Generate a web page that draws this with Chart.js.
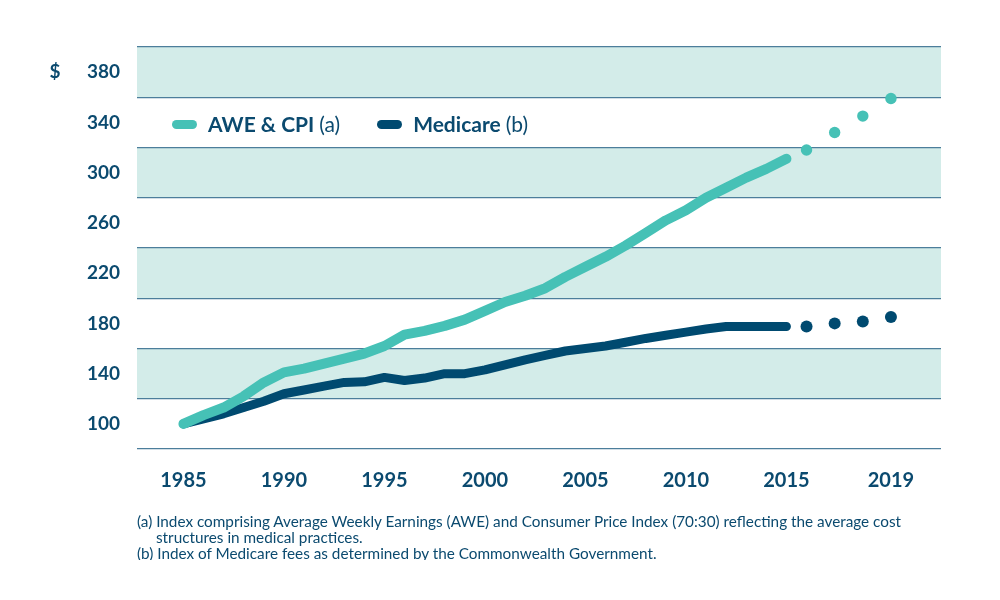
<!DOCTYPE html>
<html><head><meta charset="utf-8">
<script src="https://cdn.jsdelivr.net/npm/chart.js@4/dist/chart.umd.min.js"></script>
<style>
html,body{margin:0;padding:0;background:#fff;}
#wrap{position:relative;width:1000px;height:600px;overflow:hidden;font-family:Lato,"Open Sans",sans-serif;color:#0b4a6f;}
#c{position:absolute;left:0;top:0;}
#legend{position:absolute;left:172px;top:111px;display:flex;align-items:center;font-size:21px;line-height:26px;white-space:nowrap;}
.item{display:flex;align-items:center;}
.item + .item{margin-left:37px;}
.pill{width:25px;height:9px;border-radius:5px;margin-right:11px;}
.item b{font-weight:700;}
.item span.r{font-weight:400;margin-left:5px;}
#notes{position:absolute;left:137px;top:513px;width:800px;height:47px;overflow:hidden;font-size:15.3px;line-height:16.2px;font-weight:400;}
.note{padding-left:19px;text-indent:-19px;}
</style>
</head><body>
<div id="wrap">
<canvas id="c" width="1000" height="600"></canvas>
<div id="legend">
  <div class="item"><div class="pill" style="background:#46c1b6"></div><b>AWE &amp; CPI</b><span class="r">(a)</span></div>
  <div class="item"><div class="pill" style="background:#004a70"></div><b>Medicare</b><span class="r">(b)</span></div>
</div>
<div id="notes">
  <div class="note">(a) Index comprising Average Weekly Earnings (AWE) and Consumer Price Index (70:30) reflecting the average cost structures in medical practices.</div>
  <div class="note">(b) Index of Medicare fees as determined by the Commonwealth Government.</div>
</div>
</div>
<script>
const years = [1985,1986,1987,1988,1989,1990,1991,1992,1993,1994,1995,1996,1997,1998,1999,2000,2001,2002,2003,2004,2005,2006,2007,2008,2009,2010,2011,2012,2013,2014,2015];
const aweValues = [100,107,113,122,133,141,144,148,152,156,162,171,174,178,183,190,197,202,208,217,225,233,242,252,262,270,280,288,296,303,311];
const medicareValues = [100,104,108,113,118,124,127,130,133,133.5,137,134.5,136.5,140,140,143,147,151,154.5,158,160,162,165,168,170.5,173,175.5,177.5,177.5,177.5,177.5];
const projYears = ['2016','2017','2018','2019'];
const projPositions = [2016,2017.4,2018.8,2020.2];
const aweProjection = [318,332,345,359];
const medicareProjection = [177.5,180,181.5,185];
const xTickPositions = [1985,1990,1995,2000,2005,2010,2015,2020.2];
const xTickLabels = ['1985','1990','1995','2000','2005','2010','2015','2019'];
const yTickLabels = [100,140,180,220,260,300,340,380];
const bandRanges = [[120,160],[200,240],[280,320],[360,400]];

const TEAL = '#46c1b6', NAVY = '#004a70', TEXT = '#0b4a6f', BAND = '#d3ece9', GRID = '#4c7e9b';

const bandsPlugin = {
  id: 'bands',
  beforeDraw(chart) {
    const {ctx, chartArea: a, scales: {y}} = chart;
    ctx.save();
    ctx.fillStyle = BAND;
    bandRanges.forEach(([lo, hi]) => {
      const t = y.getPixelForValue(hi), b = y.getPixelForValue(lo);
      ctx.fillRect(a.left, t, a.right - a.left, b - t);
    });
    ctx.restore();
  },
  afterDraw(chart) {
    const {ctx, scales: {y}} = chart;
    ctx.save();
    ctx.fillStyle = TEXT;
    ctx.font = 'bold 19px Lato, sans-serif';
    ctx.textAlign = 'center';
    ctx.textBaseline = 'middle';
    ctx.fillText('$', 55, y.getPixelForValue(yTickLabels[yTickLabels.length - 1]));
    ctx.restore();
  }
};

new Chart(document.getElementById('c'), {
  type: 'line',
  data: {
    datasets: [
      { label: 'AWE & CPI (a)', data: years.map((x, i) => ({x, y: aweValues[i]})),
        borderColor: TEAL, borderWidth: 10, borderCapStyle: 'round', borderJoinStyle: 'round', pointRadius: 0, tension: 0 },
      { label: 'Medicare (b)', data: years.map((x, i) => ({x, y: medicareValues[i]})),
        borderColor: NAVY, borderWidth: 9, borderCapStyle: 'round', borderJoinStyle: 'round', pointRadius: 0, tension: 0 },
      { label: 'AWE & CPI projection', data: projPositions.map((x, i) => ({x, y: aweProjection[i], year: projYears[i]})),
        showLine: false, pointRadius: 5.7, pointBorderWidth: 0, pointBackgroundColor: TEAL, backgroundColor: TEAL, borderColor: TEAL },
      { label: 'Medicare projection', data: projPositions.map((x, i) => ({x, y: medicareProjection[i], year: projYears[i]})),
        showLine: false, pointRadius: 6, pointBorderWidth: 0, pointBackgroundColor: NAVY, backgroundColor: NAVY, borderColor: NAVY }
    ]
  },
  options: {
    responsive: false,
    devicePixelRatio: 1,
    animation: false,
    layout: { padding: { top: 47, right: 59, left: 0, bottom: 0 } },
    plugins: { legend: { display: false }, tooltip: { enabled: false } },
    scales: {
      x: {
        type: 'linear', min: 1982.69, max: 2022.69,
        grid: { display: false }, border: { display: false },
        afterBuildTicks: s => { s.ticks = xTickPositions.map(v => ({ value: v })); },
        afterFit: s => { s.height = 151; },
        ticks: { autoSkip: false, maxRotation: 0, padding: 12, color: TEXT,
          font: { family: 'Lato', size: 20, weight: 'bold' },
          callback: (v, i) => xTickLabels[i] }
      },
      y: {
        min: 80, max: 400,
        ticks: { stepSize: 20, autoSkip: false, padding: 17, color: TEXT,
          font: { family: 'Lato', size: 19, weight: 'bold' },
          callback: v => yTickLabels.includes(v) ? String(v) : '' },
        grid: { drawTicks: false, lineWidth: 1.3,
          color: c => (c.tick && c.tick.value % 40 === 0) ? GRID : 'rgba(0,0,0,0)' },
        border: { display: false },
        afterFit: s => { s.width = 137; }
      }
    }
  },
  plugins: [bandsPlugin]
});
</script>
</body></html>
